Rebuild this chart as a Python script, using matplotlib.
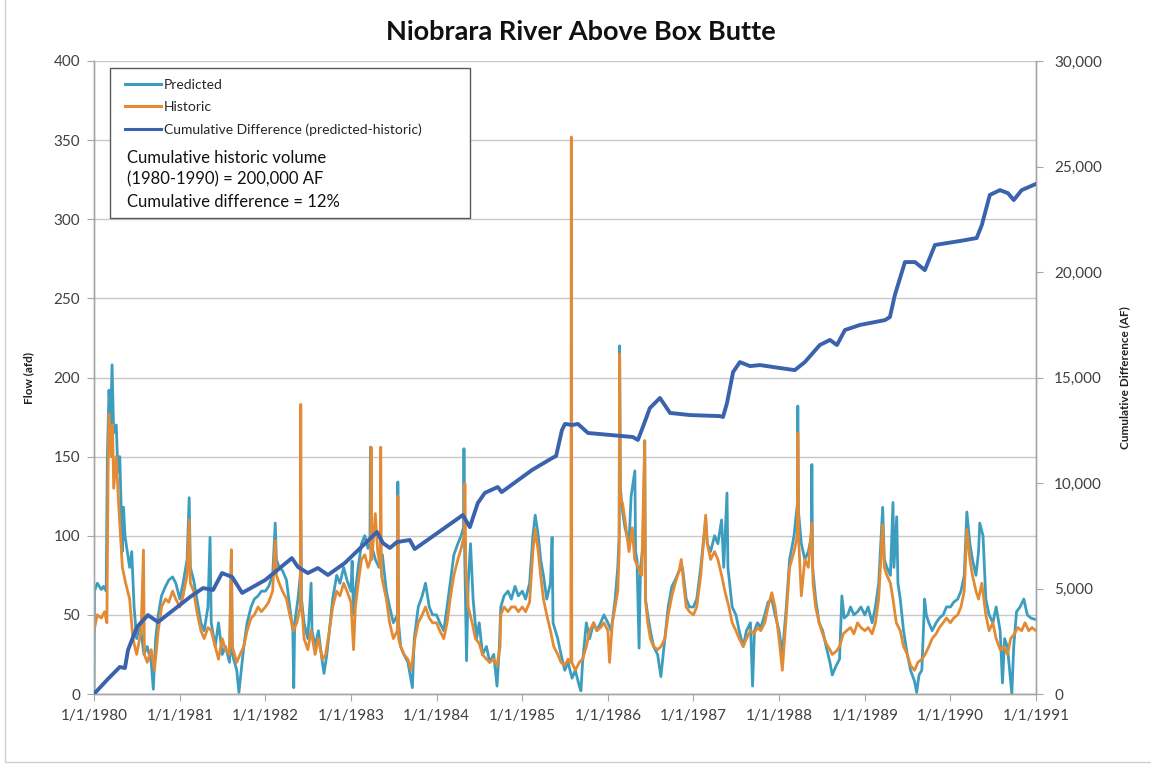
import matplotlib
matplotlib.use("Agg")
import matplotlib.pyplot as plt
from matplotlib.patches import Rectangle
import pandas as pd

plt.rcParams['font.family'] = ['Lato', 'DejaVu Sans']

title = "Niobrara River Above Box Butte"
left_label = "Flow (afd)"
right_label = "Cumulative Difference (AF)"
series_names = ["Predicted", "Historic", "Cumulative Difference (predicted-historic)"]
note_lines = ["Cumulative historic volume", "(1980-1990) = 200,000 AF", "Cumulative difference = 12%"]

# (date, flow afd)
predicted = [
    ("1980-01-01", 0), ("1980-01-03", 65), ("1980-01-15", 70), ("1980-02-01", 66), ("1980-02-10", 68),
    ("1980-02-22", 65), ("1980-02-27", 150), ("1980-03-05", 192), ("1980-03-12", 170), ("1980-03-18", 208),
    ("1980-03-25", 165), ("1980-04-05", 170), ("1980-04-12", 140), ("1980-04-20", 150), ("1980-05-01", 90),
    ("1980-05-06", 118), ("1980-05-12", 100), ("1980-06-01", 80), ("1980-06-10", 90), ("1980-06-20", 55),
    ("1980-07-01", 35), ("1980-07-15", 45), ("1980-08-01", 25), ("1980-08-15", 30), ("1980-09-01", 20),
    ("1980-09-10", 3), ("1980-09-20", 35), ("1980-10-01", 50), ("1980-10-15", 62), ("1980-11-01", 68),
    ("1980-11-15", 72), ("1980-12-01", 74), ("1980-12-15", 70),
    ("1981-01-01", 60), ("1981-01-15", 70), ("1981-02-01", 85), ("1981-02-10", 124), ("1981-02-15", 80),
    ("1981-03-01", 72), ("1981-03-15", 60), ("1981-04-01", 45), ("1981-04-15", 40), ("1981-05-01", 55),
    ("1981-05-10", 99), ("1981-05-15", 45), ("1981-06-01", 30), ("1981-06-15", 45), ("1981-07-01", 25),
    ("1981-07-15", 30), ("1981-08-01", 20), ("1981-08-09", 91), ("1981-08-13", 25), ("1981-09-01", 15),
    ("1981-09-10", 1), ("1981-09-20", 15), ("1981-10-01", 30), ("1981-10-15", 45), ("1981-11-01", 55),
    ("1981-11-15", 60), ("1981-12-01", 62), ("1981-12-15", 65),
    ("1982-01-01", 65), ("1982-01-15", 68), ("1982-02-01", 75), ("1982-02-12", 108), ("1982-02-17", 85),
    ("1982-03-01", 80), ("1982-03-15", 78), ("1982-04-01", 72), ("1982-04-15", 55), ("1982-04-28", 40),
    ("1982-05-02", 4), ("1982-05-06", 45), ("1982-05-20", 60), ("1982-05-30", 75), ("1982-06-01", 110),
    ("1982-06-04", 60), ("1982-06-15", 45), ("1982-07-01", 35), ("1982-07-15", 70), ("1982-07-19", 40),
    ("1982-08-01", 30), ("1982-08-15", 40), ("1982-09-01", 20), ("1982-09-08", 13), ("1982-09-20", 25),
    ("1982-10-01", 40), ("1982-10-15", 60), ("1982-11-01", 75), ("1982-11-15", 70), ("1982-12-01", 80),
    ("1982-12-15", 72),
    ("1983-01-01", 65), ("1983-01-06", 84), ("1983-01-12", 50), ("1983-01-20", 65), ("1983-02-01", 80),
    ("1983-02-15", 95), ("1983-03-01", 100), ("1983-03-15", 92), ("1983-03-23", 95), ("1983-03-25", 156),
    ("1983-03-28", 95), ("1983-04-15", 85), ("1983-05-01", 80), ("1983-05-15", 88), ("1983-06-01", 65),
    ("1983-06-15", 55), ("1983-07-01", 45), ("1983-07-18", 50), ("1983-07-20", 134), ("1983-07-23", 45),
    ("1983-08-01", 30), ("1983-08-15", 25), ("1983-09-01", 20), ("1983-09-20", 4), ("1983-09-28", 35),
    ("1983-10-15", 55), ("1983-11-01", 62), ("1983-11-15", 70), ("1983-12-01", 55), ("1983-12-15", 50),
    ("1984-01-01", 50), ("1984-01-15", 45), ("1984-02-01", 40), ("1984-02-15", 55), ("1984-03-01", 72),
    ("1984-03-15", 88), ("1984-04-01", 95), ("1984-04-15", 100), ("1984-04-25", 105), ("1984-04-27", 155),
    ("1984-04-30", 90), ("1984-05-08", 21), ("1984-05-15", 70), ("1984-05-25", 95), ("1984-06-05", 60),
    ("1984-06-20", 35), ("1984-07-01", 45), ("1984-07-15", 25), ("1984-08-01", 30), ("1984-08-15", 20),
    ("1984-09-01", 25), ("1984-09-15", 5), ("1984-09-25", 30), ("1984-10-01", 55), ("1984-10-15", 62),
    ("1984-11-01", 65), ("1984-11-15", 60), ("1984-12-01", 68), ("1984-12-15", 62),
    ("1985-01-01", 65), ("1985-01-15", 60), ("1985-02-01", 70), ("1985-02-15", 100), ("1985-02-25", 113),
    ("1985-03-10", 100), ("1985-03-20", 85), ("1985-04-01", 75), ("1985-04-15", 60), ("1985-05-01", 70),
    ("1985-05-08", 99), ("1985-05-12", 45), ("1985-06-01", 35), ("1985-06-15", 25), ("1985-07-01", 15),
    ("1985-07-15", 20), ("1985-08-01", 10), ("1985-08-15", 15), ("1985-09-01", 5), ("1985-09-08", 2),
    ("1985-09-15", 20), ("1985-10-01", 45), ("1985-10-15", 35), ("1985-11-01", 45), ("1985-11-15", 40),
    ("1985-12-01", 45), ("1985-12-15", 50),
    ("1986-01-01", 45), ("1986-01-15", 40), ("1986-02-01", 60), ("1986-02-12", 80), ("1986-02-18", 100),
    ("1986-02-20", 220), ("1986-02-23", 130), ("1986-03-05", 115), ("1986-03-15", 105), ("1986-04-01", 95),
    ("1986-04-10", 125), ("1986-04-26", 141), ("1986-04-29", 90), ("1986-05-05", 85), ("1986-05-14", 29),
    ("1986-05-20", 80), ("1986-06-01", 95), ("1986-06-07", 160), ("1986-06-10", 60), ("1986-06-20", 50),
    ("1986-07-01", 40), ("1986-07-15", 30), ("1986-08-01", 25), ("1986-08-15", 11), ("1986-09-01", 35),
    ("1986-09-15", 55), ("1986-10-01", 68), ("1986-10-15", 72), ("1986-11-01", 78), ("1986-11-15", 80),
    ("1986-12-01", 60), ("1986-12-15", 55),
    ("1987-01-01", 55), ("1987-01-15", 60), ("1987-02-01", 80), ("1987-02-22", 110), ("1987-03-01", 95),
    ("1987-03-15", 90), ("1987-04-01", 100), ("1987-04-15", 95), ("1987-05-01", 110), ("1987-05-10", 80),
    ("1987-05-24", 127), ("1987-05-28", 80), ("1987-06-15", 55), ("1987-07-01", 50), ("1987-07-15", 40),
    ("1987-08-01", 30), ("1987-08-15", 40), ("1987-09-01", 45), ("1987-09-10", 5), ("1987-09-18", 40),
    ("1987-10-01", 45), ("1987-10-15", 42), ("1987-11-01", 50), ("1987-11-15", 58), ("1987-12-01", 60),
    ("1987-12-15", 50),
    ("1988-01-01", 40), ("1988-01-15", 25), ("1988-02-01", 55), ("1988-02-15", 85), ("1988-03-05", 100),
    ("1988-03-19", 120), ("1988-03-21", 182), ("1988-03-24", 115), ("1988-04-05", 95), ("1988-04-20", 85),
    ("1988-05-05", 90), ("1988-05-18", 100), ("1988-05-20", 145), ("1988-05-23", 80), ("1988-06-05", 60),
    ("1988-06-20", 45), ("1988-07-05", 40), ("1988-07-20", 30), ("1988-08-05", 20), ("1988-08-15", 12),
    ("1988-09-01", 18), ("1988-09-15", 22), ("1988-09-25", 62), ("1988-10-05", 48), ("1988-10-20", 50),
    ("1988-11-01", 55), ("1988-11-15", 50), ("1988-12-01", 52), ("1988-12-15", 55),
    ("1989-01-01", 50), ("1989-01-15", 55), ("1989-02-01", 45), ("1989-02-15", 55), ("1989-03-01", 70),
    ("1989-03-18", 118), ("1989-03-25", 85), ("1989-04-05", 80), ("1989-04-20", 75), ("1989-05-01", 121),
    ("1989-05-05", 80), ("1989-05-17", 112), ("1989-05-22", 70), ("1989-06-01", 60), ("1989-06-15", 40),
    ("1989-07-01", 25), ("1989-07-15", 15), ("1989-08-01", 8), ("1989-08-10", 1), ("1989-08-20", 12),
    ("1989-09-01", 15), ("1989-09-13", 60), ("1989-09-20", 50), ("1989-10-01", 45), ("1989-10-15", 40),
    ("1989-11-01", 45), ("1989-11-15", 48), ("1989-12-01", 50), ("1989-12-15", 55),
    ("1990-01-01", 55), ("1990-01-15", 58), ("1990-02-01", 60), ("1990-02-15", 65), ("1990-03-01", 75),
    ("1990-03-12", 115), ("1990-03-25", 95), ("1990-04-05", 85), ("1990-04-20", 75), ("1990-05-01", 90),
    ("1990-05-06", 108), ("1990-05-20", 100), ("1990-06-01", 60), ("1990-06-15", 50), ("1990-07-01", 45),
    ("1990-07-15", 55), ("1990-08-01", 40), ("1990-08-11", 7), ("1990-08-20", 35), ("1990-09-01", 30),
    ("1990-09-20", 0), ("1990-09-28", 30), ("1990-10-10", 52), ("1990-10-25", 55), ("1990-11-10", 60),
    ("1990-11-25", 50), ("1990-12-10", 48), ("1990-12-31", 47),
]

historic = [
    ("1980-01-01", 40), ("1980-01-15", 50), ("1980-02-01", 48), ("1980-02-15", 52), ("1980-02-25", 45),
    ("1980-03-01", 140), ("1980-03-05", 177), ("1980-03-15", 150), ("1980-03-20", 170), ("1980-03-25", 130),
    ("1980-04-05", 150), ("1980-04-15", 120), ("1980-05-01", 80), ("1980-05-15", 70), ("1980-06-01", 60),
    ("1980-06-15", 35), ("1980-07-01", 25), ("1980-07-20", 40), ("1980-07-30", 91), ("1980-08-03", 25),
    ("1980-08-15", 20), ("1980-09-01", 28), ("1980-09-15", 15), ("1980-10-01", 40), ("1980-10-15", 55),
    ("1980-11-01", 60), ("1980-11-15", 58), ("1980-12-01", 65), ("1980-12-15", 60),
    ("1981-01-01", 55), ("1981-01-15", 62), ("1981-02-01", 75), ("1981-02-10", 110), ("1981-02-15", 70),
    ("1981-03-01", 65), ("1981-03-15", 52), ("1981-04-01", 40), ("1981-04-15", 35), ("1981-05-01", 42),
    ("1981-05-15", 40), ("1981-06-01", 30), ("1981-06-15", 22), ("1981-07-01", 35), ("1981-07-15", 28),
    ("1981-08-01", 25), ("1981-08-09", 91), ("1981-08-13", 30), ("1981-09-01", 20), ("1981-09-15", 25),
    ("1981-10-01", 30), ("1981-10-15", 40), ("1981-11-01", 48), ("1981-11-15", 50), ("1981-12-01", 55),
    ("1981-12-15", 52),
    ("1982-01-01", 55), ("1982-01-15", 58), ("1982-02-01", 65), ("1982-02-12", 97), ("1982-02-17", 75),
    ("1982-03-01", 70), ("1982-03-15", 65), ("1982-04-01", 60), ("1982-04-15", 50), ("1982-05-01", 40),
    ("1982-05-15", 45), ("1982-05-30", 55), ("1982-06-01", 183), ("1982-06-03", 60), ("1982-06-15", 35),
    ("1982-07-01", 28), ("1982-07-15", 40), ("1982-08-01", 25), ("1982-08-15", 35), ("1982-09-01", 22),
    ("1982-09-15", 25), ("1982-10-01", 40), ("1982-10-15", 55), ("1982-11-01", 65), ("1982-11-15", 62),
    ("1982-12-01", 70), ("1982-12-15", 65),
    ("1983-01-01", 58), ("1983-01-12", 28), ("1983-01-20", 55), ("1983-02-01", 70), ("1983-02-15", 85),
    ("1983-03-01", 88), ("1983-03-15", 80), ("1983-03-26", 85), ("1983-03-28", 156), ("1983-03-31", 85),
    ("1983-04-15", 114), ("1983-04-25", 90), ("1983-05-06", 80), ("1983-05-08", 156), ("1983-05-11", 75),
    ("1983-06-01", 60), ("1983-06-15", 45), ("1983-07-01", 35), ("1983-07-18", 40), ("1983-07-20", 125),
    ("1983-07-23", 35), ("1983-08-01", 30), ("1983-08-15", 25), ("1983-09-01", 22), ("1983-09-15", 15),
    ("1983-10-01", 35), ("1983-10-15", 45), ("1983-11-01", 50), ("1983-11-15", 55), ("1983-12-01", 48),
    ("1983-12-15", 45),
    ("1984-01-01", 45), ("1984-01-15", 40), ("1984-02-01", 35), ("1984-02-15", 45), ("1984-03-01", 62),
    ("1984-03-15", 75), ("1984-04-01", 85), ("1984-04-15", 92), ("1984-04-28", 100), ("1984-05-01", 133),
    ("1984-05-05", 80), ("1984-05-15", 55), ("1984-06-01", 45), ("1984-06-15", 35), ("1984-07-01", 32),
    ("1984-07-15", 25), ("1984-08-01", 22), ("1984-08-15", 20), ("1984-09-01", 22), ("1984-09-15", 18),
    ("1984-09-28", 30), ("1984-10-01", 50), ("1984-10-15", 55), ("1984-11-01", 52), ("1984-11-15", 55),
    ("1984-12-01", 55), ("1984-12-15", 52),
    ("1985-01-01", 55), ("1985-01-15", 52), ("1985-02-01", 58), ("1985-02-15", 90), ("1985-02-25", 104),
    ("1985-03-10", 90), ("1985-03-20", 75), ("1985-04-01", 60), ("1985-04-15", 50), ("1985-05-01", 40),
    ("1985-05-15", 30), ("1985-06-01", 25), ("1985-06-15", 20), ("1985-07-01", 18), ("1985-07-15", 22),
    ("1985-07-27", 20), ("1985-07-29", 352), ("1985-07-31", 20), ("1985-08-15", 15), ("1985-09-01", 20),
    ("1985-09-15", 22), ("1985-10-01", 30), ("1985-10-15", 40), ("1985-11-01", 45), ("1985-11-15", 40),
    ("1985-12-01", 42), ("1985-12-15", 45),
    ("1986-01-01", 40), ("1986-01-08", 20), ("1986-01-20", 45), ("1986-02-01", 55), ("1986-02-12", 65),
    ("1986-02-18", 90), ("1986-02-20", 215), ("1986-02-23", 125), ("1986-03-05", 120), ("1986-03-15", 110),
    ("1986-04-01", 90), ("1986-04-15", 105), ("1986-04-25", 85), ("1986-05-10", 80), ("1986-05-25", 75),
    ("1986-06-07", 160), ("1986-06-10", 60), ("1986-06-20", 45), ("1986-07-01", 35), ("1986-07-15", 30),
    ("1986-08-01", 28), ("1986-08-15", 30), ("1986-09-01", 35), ("1986-09-15", 50), ("1986-10-01", 62),
    ("1986-10-15", 70), ("1986-11-01", 78), ("1986-11-10", 85), ("1986-11-20", 70), ("1986-12-01", 55),
    ("1986-12-15", 52),
    ("1987-01-01", 50), ("1987-01-15", 55), ("1987-02-01", 75), ("1987-02-22", 113), ("1987-03-01", 95),
    ("1987-03-15", 85), ("1987-04-01", 90), ("1987-04-15", 85), ("1987-05-01", 75), ("1987-05-15", 65),
    ("1987-06-01", 55), ("1987-06-15", 45), ("1987-07-01", 40), ("1987-07-15", 35), ("1987-08-01", 30),
    ("1987-08-15", 35), ("1987-09-01", 40), ("1987-09-15", 38), ("1987-10-01", 42), ("1987-10-15", 40),
    ("1987-11-01", 45), ("1987-11-15", 55), ("1987-12-01", 64), ("1987-12-15", 55),
    ("1988-01-01", 35), ("1988-01-15", 15), ("1988-02-01", 50), ("1988-02-15", 80), ("1988-03-05", 90),
    ("1988-03-19", 100), ("1988-03-21", 165), ("1988-03-24", 100), ("1988-04-05", 62), ("1988-04-20", 85),
    ("1988-05-05", 80), ("1988-05-20", 108), ("1988-05-25", 70), ("1988-06-05", 55), ("1988-06-20", 45),
    ("1988-07-05", 38), ("1988-07-20", 32), ("1988-08-05", 28), ("1988-08-15", 25), ("1988-09-01", 27),
    ("1988-09-15", 30), ("1988-10-01", 38), ("1988-10-15", 40), ("1988-11-01", 42), ("1988-11-15", 38),
    ("1988-12-01", 45), ("1988-12-15", 42),
    ("1989-01-01", 40), ("1989-01-15", 42), ("1989-02-01", 38), ("1989-02-15", 45), ("1989-03-01", 60),
    ("1989-03-18", 107), ("1989-03-25", 80), ("1989-04-05", 75), ("1989-04-20", 70), ("1989-05-01", 60),
    ("1989-05-15", 45), ("1989-06-01", 40), ("1989-06-15", 30), ("1989-07-01", 25), ("1989-07-15", 18),
    ("1989-08-01", 15), ("1989-08-15", 20), ("1989-09-01", 22), ("1989-09-15", 25), ("1989-10-01", 30),
    ("1989-10-15", 35), ("1989-11-01", 38), ("1989-11-15", 42), ("1989-12-01", 45), ("1989-12-15", 48),
    ("1990-01-01", 45), ("1990-01-15", 48), ("1990-02-01", 50), ("1990-02-15", 55), ("1990-03-01", 65),
    ("1990-03-12", 104), ("1990-03-25", 85), ("1990-04-05", 75), ("1990-04-20", 65), ("1990-05-01", 60),
    ("1990-05-15", 70), ("1990-06-01", 50), ("1990-06-15", 40), ("1990-07-01", 45), ("1990-07-15", 35),
    ("1990-08-01", 28), ("1990-08-15", 30), ("1990-09-01", 25), ("1990-09-15", 35), ("1990-10-01", 38),
    ("1990-10-15", 42), ("1990-11-01", 40), ("1990-11-15", 45), ("1990-12-01", 40), ("1990-12-15", 42),
    ("1990-12-31", 40),
]

# (date, cumulative difference AF)
cumulative = [
    ("1980-01-01", 0), ("1980-02-25", 660), ("1980-04-20", 1280), ("1980-05-12", 1230), ("1980-05-25", 2080),
    ("1980-07-02", 3170), ("1980-08-18", 3740), ("1980-09-30", 3410), ("1981-02-14", 4600), ("1981-04-10", 5020),
    ("1981-05-23", 4930), ("1981-06-30", 5730), ("1981-08-12", 5550), ("1981-09-24", 4790), ("1981-12-31", 5400),
    ("1982-04-24", 6440), ("1982-05-20", 6020), ("1982-07-01", 5730), ("1982-08-13", 5970), ("1982-09-25", 5640),
    ("1982-12-06", 6210), ("1983-04-22", 7680), ("1983-05-17", 7160), ("1983-06-16", 6920), ("1983-07-16", 7200),
    ("1983-09-09", 7300), ("1983-09-30", 6870), ("1984-04-22", 8480), ("1984-05-22", 7910), ("1984-06-25", 9050),
    ("1984-07-25", 9530), ("1984-09-18", 9810), ("1984-10-05", 9570), ("1985-02-12", 10620), ("1985-05-08", 11180),
    ("1985-05-25", 11280), ("1985-06-19", 12510), ("1985-07-02", 12800), ("1985-08-01", 12750), ("1985-08-26", 12800),
    ("1985-10-08", 12370), ("1986-04-17", 12180), ("1986-05-09", 12040), ("1986-05-30", 12650), ("1986-06-29", 13550),
    ("1986-08-11", 14030), ("1986-09-23", 13320), ("1986-12-17", 13220), ("1987-04-24", 13170), ("1987-05-07", 13130),
    ("1987-05-24", 13790), ("1987-06-19", 15260), ("1987-07-18", 15730), ("1987-08-30", 15540), ("1987-10-12", 15590),
    ("1988-01-04", 15450), ("1988-03-08", 15350), ("1988-04-20", 15730), ("1988-06-23", 16540), ("1988-08-05", 16780),
    ("1988-09-04", 16540), ("1988-10-08", 17250), ("1988-12-11", 17490), ("1989-03-28", 17720), ("1989-04-18", 17870),
    ("1989-05-09", 18910), ("1989-06-21", 20470), ("1989-08-03", 20470), ("1989-09-14", 20090), ("1989-10-27", 21280),
    ("1990-02-11", 21470), ("1990-04-23", 21610), ("1990-05-15", 22230), ("1990-06-18", 23650), ("1990-07-31", 23880),
    ("1990-09-03", 23740), ("1990-09-28", 23410), ("1990-11-01", 23880), ("1990-12-31", 24170),
]

flow_ticks = [0, 50, 100, 150, 200, 250, 300, 350, 400]
cum_ticks = [0, 5000, 10000, 15000, 20000, 25000, 30000]
year_ticks = ["1980-01-01", "1981-01-01", "1982-01-01", "1983-01-01", "1984-01-01", "1985-01-01",
              "1986-01-01", "1987-01-01", "1988-01-01", "1989-01-01", "1990-01-01", "1991-01-01"]
year_labels = ["1/1/1980", "1/1/1981", "1/1/1982", "1/1/1983", "1/1/1984", "1/1/1985",
               "1/1/1986", "1/1/1987", "1/1/1988", "1/1/1989", "1/1/1990", "1/1/1991"]

C_PRED = "#3C9DBF"
C_HIST = "#E38A35"
C_CUM = "#3B62AD"
C_AXIS = "#A6A6A6"
C_TEXT = "#404040"


def split(pairs):
    return pd.to_datetime([p[0] for p in pairs]), [p[1] for p in pairs]


W, H = 1151, 767
fig = plt.figure(figsize=(W / 100, H / 100), dpi=100)
ax = fig.add_axes([94 / W, 1 - 694 / H, 942 / W, 633 / H])
ax2 = ax.twinx()

pd_x, pd_y = split(predicted)
hs_x, hs_y = split(historic)
cm_x, cm_y = split(cumulative)

l1, = ax.plot(pd_x, pd_y, color=C_PRED, lw=2.0, zorder=2, label=series_names[0])
l2, = ax.plot(hs_x, hs_y, color=C_HIST, lw=2.0, zorder=3, label=series_names[1])
l3, = ax2.plot(cm_x, cm_y, color=C_CUM, lw=2.8, zorder=4, label=series_names[2])

ax.set_xlim(pd.Timestamp(year_ticks[0]), pd.Timestamp(year_ticks[-1]))
ax.set_ylim(flow_ticks[0], flow_ticks[-1])
ax2.set_ylim(cum_ticks[0], cum_ticks[-1])

ax.set_yticks(flow_ticks)
ax.set_yticklabels([str(t) for t in flow_ticks])
ax2.set_yticks(cum_ticks)
ax2.set_yticklabels([f"{t:,}" for t in cum_ticks])
ax.set_xticks(pd.to_datetime(year_ticks))
ax.set_xticklabels(year_labels)

ax.grid(axis='y', color='#C8C8C8', lw=1.0)
ax.set_axisbelow(True)

for a in (ax, ax2):
    a.spines['top'].set_visible(False)
    for s in ('left', 'right', 'bottom'):
        a.spines[s].set_color(C_AXIS)
        a.spines[s].set_linewidth(1.0)
ax.tick_params(axis='both', direction='out', length=5, color=C_AXIS, labelsize=11,
               labelcolor=C_TEXT, pad=5)
ax.tick_params(axis='x', pad=6)
ax2.tick_params(axis='y', direction='out', length=5, color=C_AXIS, labelsize=11,
                labelcolor=C_TEXT, pad=8)

ax.set_ylabel(left_label, fontsize=8.5, fontweight='bold', color='#202020')
ax.yaxis.set_label_coords(-0.063, 0.5)
ax2.set_ylabel(right_label, fontsize=8.5, fontweight='bold', color='#202020')
ax2.yaxis.set_label_coords(1.088, 0.5)

fig.text(0.505, 1 - 32 / H, title, ha='center', va='center', fontsize=19.5,
         fontweight='bold', color='#111111')

# legend frame and notes
box = Rectangle((0.017, 0.752), 0.382, 0.237, transform=ax2.transAxes,
                facecolor='white', edgecolor='#595959', lw=1.0, zorder=10)
ax2.add_patch(box)
leg = ax2.legend(handles=[l1, l2, l3], loc='upper left', bbox_to_anchor=(0.033, 0.972),
                 frameon=False, fontsize=10, handlelength=2.6, handletextpad=0.2,
                 labelspacing=0.73, borderpad=0, borderaxespad=0)
leg.set_zorder(11)
for h in leg.legend_handles:
    h.set_linewidth(2.2)
for t in leg.get_texts():
    t.set_color('#262626')
for i, line in enumerate(note_lines):
    ax2.text(0.035, 0.847 - i * 0.0345, line, transform=ax2.transAxes, fontsize=12,
             va='center', ha='left', color='#111111', zorder=12)

# faint outer frame of the picture
fig.patches.append(Rectangle((5 / W, 5 / H), 1.5, 1.5, transform=fig.transFigure,
                             fill=False, edgecolor='#D0D0D0', lw=1.0))

fig.savefig("out.png", dpi=100)
